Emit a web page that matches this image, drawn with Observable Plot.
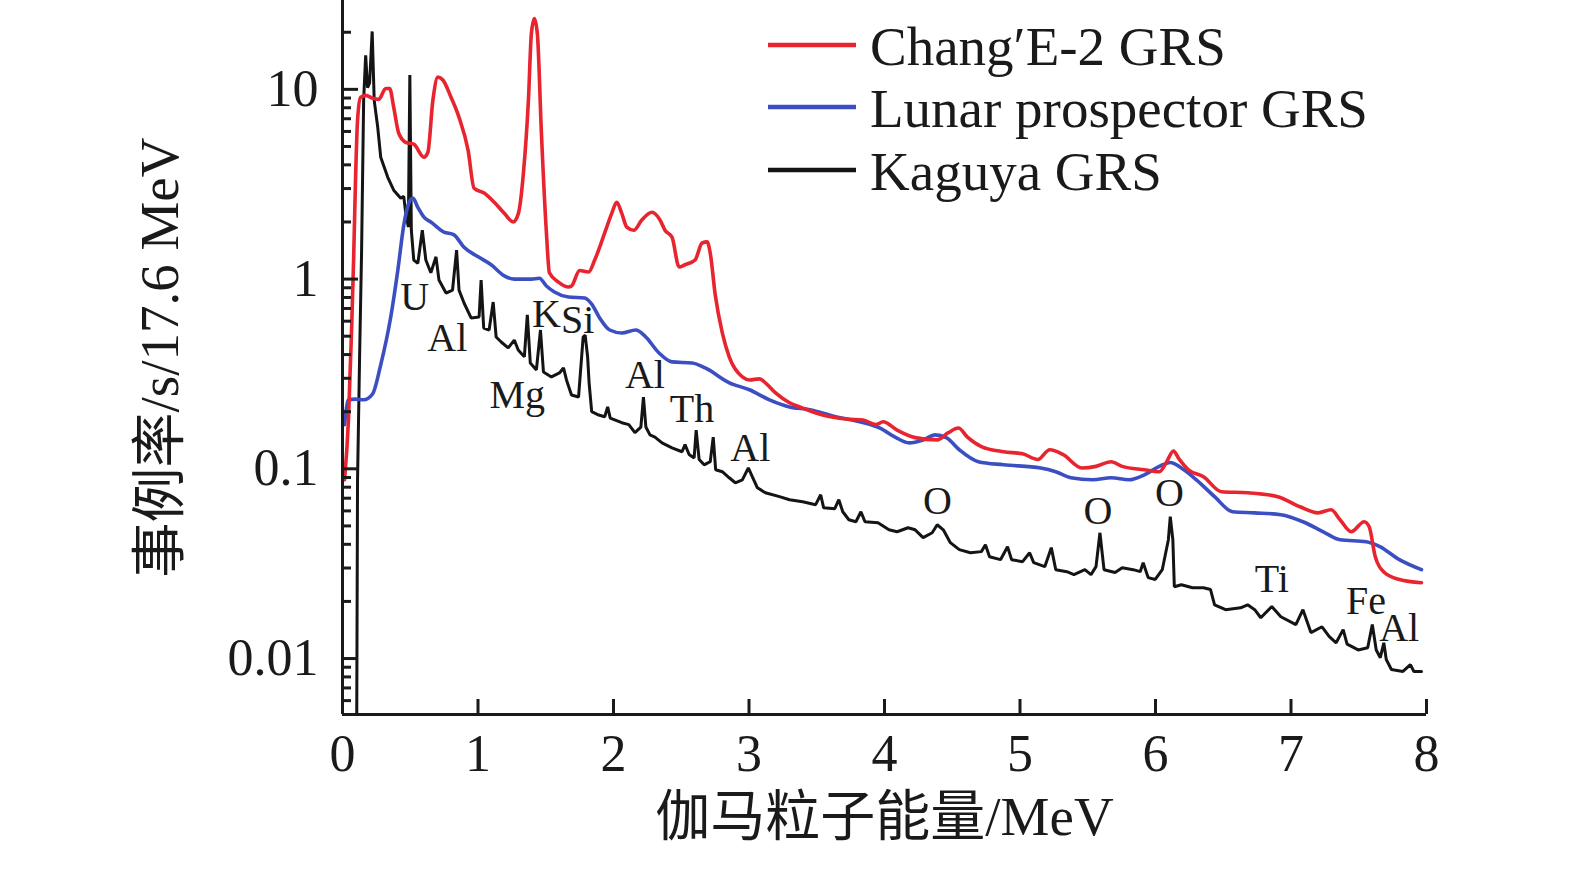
<!DOCTYPE html>
<html><head><meta charset="utf-8">
<script src="https://cdn.jsdelivr.net/npm/d3@7"></script>
<script src="https://cdn.jsdelivr.net/npm/@observablehq/plot@0.6"></script>
<style>html,body{margin:0;padding:0;background:#fff;overflow:hidden;} #chart{width:1575px;height:875px;} #chart svg{display:block;max-width:none !important;}</style>
</head><body><div id="chart"></div>
<script>
const seriesNames = ["Chang′E-2 GRS", "Lunar prospector GRS", "Kaguya GRS"];
const seriesColors = ["#e8242f", "#3c4fc2", "#141414"];

const change2Energy = [0.015,0.044,0.067,0.082,0.096,0.111,0.133,0.171,0.222,0.267,
0.319,0.348,0.378,0.415,0.467,0.526,0.601,0.630,0.667,0.704,
0.741,0.801,0.860,0.927,0.971,1.045,1.120,1.194,1.260,1.298,
1.335,1.372,1.394,1.416,1.438,1.468,1.505,1.527,1.594,1.668,
1.690,1.750,1.816,1.861,1.935,1.987,2.024,2.061,2.098,2.150,
2.209,2.284,2.343,2.380,2.432,2.484,2.528,2.602,2.654,2.691,
2.714,2.751,2.803,2.854,2.951,3.003,3.077,3.121,3.196,3.299,
3.396,3.544,3.715,3.841,3.937,3.989,4.093,4.226,4.389,4.471,
4.545,4.612,4.715,4.879,5.019,5.131,5.220,5.316,5.457,5.561,
5.672,5.754,5.917,6.028,6.080,6.132,6.176,6.243,6.354,6.487,
6.680,6.903,7.066,7.199,7.296,7.362,7.444,7.540,7.577,7.622,
7.689,7.800,7.963];
const change2Rate = [0.0875,0.181,0.539,1.26,3.32,6.87,9.08,9.30,8.97,8.86,
10.1,10.1,8.04,5.87,5.26,5.14,4.39,4.66,8.75,11.6,
11.2,9.08,7.12,4.77,3.01,2.84,2.54,2.22,2.00,2.22,
3.61,8.75,19.7,23.6,19.7,5.87,1.75,1.08,0.964,0.908,
0.919,1.11,1.09,1.26,1.75,2.22,2.54,2.22,1.88,1.81,
2.05,2.25,2.05,1.81,1.66,1.16,1.19,1.26,1.55,1.57,
1.37,0.824,0.520,0.389,0.305,0.294,0.298,0.284,0.251,0.223,
0.209,0.192,0.183,0.181,0.171,0.177,0.160,0.146,0.142,0.155,
0.164,0.147,0.131,0.123,0.120,0.112,0.126,0.119,0.101,0.103,
0.109,0.103,0.0988,0.0965,0.108,0.124,0.112,0.0988,0.0908,0.0757,
0.0748,0.0713,0.0631,0.0586,0.0608,0.0539,0.0466,0.0526,0.0495,0.0344,
0.0284,0.0261,0.0251];

const lpEnergy = [0.015,0.044,0.096,0.156,0.222,0.282,0.356,0.408,0.452,0.489,
0.519,0.556,0.601,0.652,0.749,0.823,0.897,1.001,1.097,1.194,
1.268,1.394,1.453,1.505,1.564,1.668,1.787,1.839,1.898,1.972,
2.061,2.165,2.232,2.336,2.432,2.580,2.677,2.855,3.003,3.151,
3.299,3.448,3.640,3.818,3.967,4.085,4.182,4.285,4.374,4.456,
4.552,4.693,4.879,5.153,5.264,5.375,5.538,5.672,5.805,5.917,
6.028,6.109,6.191,6.302,6.436,6.569,6.732,6.925,7.088,7.251,
7.362,7.555,7.659,7.800,7.963];
const lpRate = [0.171,0.231,0.233,0.231,0.248,0.353,0.631,1.11,1.92,2.51,
2.67,2.39,2.12,2.00,1.77,1.71,1.47,1.31,1.19,1.04,
1.00,1.00,1.01,0.919,0.855,0.804,0.794,0.738,0.624,0.539,
0.520,0.539,0.501,0.408,0.366,0.361,0.340,0.284,0.261,0.231,
0.212,0.205,0.188,0.177,0.164,0.146,0.137,0.142,0.151,0.146,
0.126,0.109,0.105,0.101,0.0965,0.0897,0.0875,0.0897,0.0875,0.0929,
0.103,0.108,0.101,0.0875,0.0713,0.0594,0.0586,0.0573,0.0526,0.0460,
0.0423,0.0413,0.0388,0.0332,0.0294];

const kaguyaEnergy = [0.104,0.111,0.126,0.141,0.156,0.171,0.185,0.200,0.219,0.234,
0.260,0.282,0.334,0.378,0.430,0.452,0.467,0.486,0.497,0.508,
0.526,0.556,0.589,0.615,0.652,0.690,0.712,0.764,0.812,0.842,
0.860,0.897,0.949,1.008,1.023,1.042,1.082,1.112,1.134,1.171,
1.223,1.268,1.297,1.342,1.364,1.386,1.431,1.461,1.483,1.542,
1.601,1.631,1.653,1.690,1.742,1.776,1.791,1.809,1.820,1.839,
1.891,1.935,1.957,1.976,2.061,2.113,2.158,2.202,2.221,2.239,
2.269,2.306,2.358,2.432,2.506,2.528,2.558,2.595,2.610,2.632,
2.669,2.714,2.736,2.754,2.803,2.854,2.899,2.951,2.995,3.025,
3.062,3.121,3.225,3.299,3.396,3.492,3.529,3.551,3.633,3.663,
3.692,3.737,3.789,3.826,3.856,3.952,4.033,4.093,4.174,4.226,
4.285,4.352,4.389,4.434,4.486,4.552,4.634,4.715,4.745,4.775,
4.856,4.908,4.938,5.019,5.071,5.101,5.183,5.231,5.264,5.346,
5.398,5.479,5.524,5.561,5.590,5.620,5.702,5.754,5.835,5.887,
5.909,5.946,5.998,6.050,6.095,6.109,6.128,6.139,6.191,6.273,
6.354,6.406,6.436,6.517,6.628,6.680,6.732,6.777,6.858,6.925,
7.036,7.088,7.147,7.229,7.281,7.333,7.385,7.414,7.496,7.566,
7.600,7.629,7.659,7.685,7.703,7.741,7.826,7.881,7.907,7.963];
const kaguyaRate = [0.003,0.0875,0.384,1.42,8.75,15.1,10.2,10.8,20.2,8.75,
6.31,4.39,3.44,2.94,2.67,2.73,2.22,1.88,11.9,1.81,
1.26,1.21,1.81,1.26,1.08,1.31,0.988,0.844,0.875,1.42,
0.875,0.748,0.624,0.631,0.988,0.552,0.539,0.757,0.495,0.466,
0.434,0.477,0.423,0.389,0.647,0.361,0.332,0.539,0.324,0.305,
0.320,0.340,0.294,0.245,0.239,0.495,0.507,0.389,0.284,0.200,
0.192,0.188,0.212,0.185,0.175,0.171,0.155,0.166,0.239,0.166,
0.151,0.147,0.137,0.129,0.123,0.134,0.119,0.114,0.160,0.112,
0.105,0.109,0.147,0.0988,0.0965,0.0897,0.0844,0.0875,0.101,0.0908,
0.0794,0.0748,0.0713,0.0687,0.0670,0.0647,0.0730,0.0623,0.0616,0.0687,
0.0594,0.0539,0.0526,0.0594,0.0526,0.0520,0.0477,0.0466,0.0489,0.0477,
0.0434,0.0460,0.0507,0.0477,0.0408,0.0375,0.0361,0.0366,0.0398,0.0344,
0.0332,0.0388,0.0332,0.0324,0.0361,0.0320,0.0305,0.0384,0.0294,0.0287,
0.0277,0.0294,0.0277,0.0305,0.0460,0.0294,0.0284,0.0301,0.0294,0.0287,
0.0320,0.0267,0.0261,0.0294,0.0423,0.0559,0.0423,0.0239,0.0245,0.0236,
0.0236,0.0231,0.0192,0.0181,0.0185,0.0192,0.0181,0.0164,0.0188,0.0166,
0.0151,0.0181,0.0137,0.0147,0.0131,0.0121,0.0142,0.0119,0.0111,0.0114,
0.0151,0.0111,0.0101,0.0121,0.00988,0.00875,0.00855,0.00929,0.00855,0.00855];

const peakLabels = ["U","Al","Mg","K","Si","Al","Th","Al","O","O","O","Ti","Fe","Al"];
const peakEnergy = [0.532,0.773,1.290,1.505,1.735,2.232,2.580,3.010,4.391,5.575,6.102,6.858,7.553,7.798];
const peakRate = [0.804,0.489,0.245,0.654,0.608,0.312,0.207,0.129,0.0673,0.0596,0.0748,0.0261,0.0200,0.0145];

const xTicks = [0,1,2,3,4,5,6,7,8];
const yMajorTicks = [0.01,0.1,1,10];
const yMinorTicks = [0.006,0.007,0.008,0.009,0.02,0.03,0.04,0.05,0.06,0.07,0.08,0.09,
  0.2,0.3,0.4,0.5,0.6,0.7,0.8,0.9,2,3,4,5,6,7,8,9,20];
const xDomain = [0, 8];
const yDomain = [0.00507, 29.4];
const xTitle = "伽马粒子能量/MeV";
const yTitle = "事例率/s/17.6 MeV";

const serif = "'Liberation Serif','Times New Roman','Noto Sans CJK SC',serif";
const toRows = (E, R) => E.map((e, i) => ({energy: e, rate: R[i]}));
const series = [toRows(change2Energy, change2Rate), toRows(lpEnergy, lpRate), toRows(kaguyaEnergy, kaguyaRate)];
const peaks = peakLabels.map((t, i) => ({t, energy: peakEnergy[i], rate: peakRate[i]}));

const ink = "#1a1a1a";
const plot = Plot.plot({
  width: 1575, height: 875,
  marginLeft: 342, marginRight: 149, marginTop: 0, marginBottom: 161,
  x: {domain: xDomain},
  y: {type: "log", domain: yDomain},
  style: {background: "#fff", color: ink, fontFamily: serif},
  marks: [
    Plot.line(series[2], {x: "energy", y: "rate", stroke: seriesColors[2], strokeWidth: 3, clip: true, strokeLinejoin: "miter"}),
    Plot.line(series[1], {x: "energy", y: "rate", stroke: seriesColors[1], strokeWidth: 3.6, clip: true, curve: "monotone-x"}),
    Plot.line(series[0], {x: "energy", y: "rate", stroke: seriesColors[0], strokeWidth: 3.6, clip: true, curve: "monotone-x"}),
    Plot.text(peaks, {x: "energy", y: "rate", text: "t", fontSize: 40, fontFamily: serif, fill: ink}),
    Plot.ruleX([xDomain[0]], {stroke: ink, strokeWidth: 3}),
    Plot.ruleY([yDomain[0]], {stroke: ink, strokeWidth: 3}),
    Plot.axisY(yMajorTicks, {tickSize: 16, dx: 16, fill: "none", stroke: ink, strokeWidth: 3, label: null}),
    Plot.axisY(yMinorTicks, {tickSize: 9, dx: 9, fill: "none", stroke: ink, strokeWidth: 3, label: null}),
    Plot.axisY(yMajorTicks, {tickSize: 0, tickPadding: 24, stroke: "none", fill: ink, fontSize: 52, fontFamily: serif, tickFormat: d => String(d), label: null}),
    Plot.axisX(xTicks, {tickSize: 15, dy: -15, fill: "none", stroke: ink, strokeWidth: 3, label: null}),
    Plot.axisX(xTicks, {tickSize: 0, tickPadding: 20, stroke: "none", fill: ink, fontSize: 52, fontFamily: serif, tickFormat: d => String(d), label: null}),
    Plot.text([yTitle], {frameAnchor: "left", dx: -182, rotate: -90, textAnchor: "middle", fontSize: 55, fontFamily: serif, fill: ink}),
    Plot.text([xTitle], {frameAnchor: "bottom", dy: 120, textAnchor: "middle", fontSize: 55, fontFamily: serif, fill: ink})
  ]
});
document.getElementById("chart").appendChild(plot);

// legend inside the plot area (upper right)
const svg = d3.select(plot);
const legendY = [45, 107, 170];
const lg = svg.append("g").attr("text-anchor", "start");
seriesNames.forEach((name, i) => {
  lg.append("line").attr("x1", 768).attr("x2", 856).attr("y1", legendY[i]).attr("y2", legendY[i])
    .attr("stroke", seriesColors[i]).attr("stroke-width", 4.5);
  lg.append("text").attr("x", 870).attr("y", legendY[i]).attr("dy", "0.37em")
    .attr("text-anchor", "start")
    .attr("font-size", 55).attr("font-family", serif).attr("fill", ink).text(name);
});
</script>
</body></html>
